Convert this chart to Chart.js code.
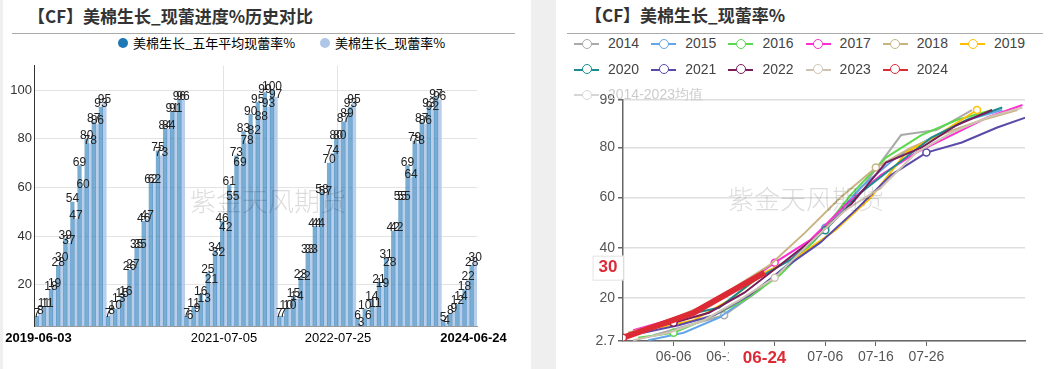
<!DOCTYPE html>
<html>
<head>
<meta charset="utf-8">
<script src="https://cdn.jsdelivr.net/npm/chart.js@4.4.1/dist/chart.umd.min.js"></script>
<style>
body{margin:0;width:1049px;height:369px;background:#efefef;position:relative;overflow:hidden;font-family:"Noto Sans CJK SC",sans-serif}
.panel{position:absolute;top:0;height:369px;background:#fff}
.title{position:absolute;font-weight:bold;font-size:17px;line-height:20px;color:#333;white-space:nowrap}
.rule{position:absolute;height:1px;background:#aaa}
.wm{position:absolute;font-size:26px;line-height:26px;color:rgba(0,0,0,0.14);font-weight:300;white-space:nowrap;pointer-events:none}
canvas{position:absolute}
.lg{position:absolute;white-space:nowrap;line-height:16px}
.dot{position:absolute;width:10px;height:10px;border-radius:50%}
.ln{position:absolute;width:25px;height:2px}
.ring{position:absolute;width:8px;height:8px;border-radius:50%;background:#fff;border:1.5px solid}
</style>
</head>
<body>
<div class="panel" style="left:3px;width:528px"></div>
<div class="panel" style="left:556px;width:493px"></div>

<div class="title" style="left:28px;top:6px">【CF】美棉生长_现蕾进度%历史对比</div>
<div class="rule" style="left:12px;top:33px;width:503px"></div>
<div class="title" style="left:585px;top:5px">【CF】美棉生长_现蕾率%</div>
<div class="rule" style="left:567px;top:33px;width:476px"></div>

<canvas id="left" width="530" height="300" style="left:0;top:55px"></canvas>
<canvas id="right" width="489" height="284" style="left:560px;top:85px"></canvas>

<div id="legends"></div>
<div class="wm" style="left:190px;top:187px">紫金天风期货</div>
<div class="wm" style="left:728px;top:185px">紫金天风期货</div>

<script>
// weekly report dates (MM-DD) and squaring % per year
const d2014 = ['06-02','06-09','06-16','06-23','06-30','07-07','07-14','07-21','07-28','08-04'];
const v2014 = [5, 9, 13, 23, 36, 50, 66, 85, 87, 95];
const d2015 = ['06-01','06-08','06-15','06-22','06-29','07-06','07-13','07-20','07-27','08-03','08-10'];
const v2015 = [3, 6, 12, 22, 34, 48, 64, 76, 84, 91, 95];
const d2016 = ['05-30','06-06','06-13','06-20','06-27','07-04','07-11','07-18','07-25','08-01','08-08'];
const v2016 = [4, 6, 12, 19, 29, 43, 61, 76, 85, 91, 95];
const d2017 = ['05-29','06-05','06-12','06-19','06-26','07-03','07-10','07-17','07-24','07-31','08-07','08-14'];
const v2017 = [7, 11, 16, 24, 34, 43, 57, 69, 78, 85, 92, 97];
const d2018 = ['05-28','06-04','06-11','06-18','06-25','07-02','07-09','07-16','07-23','07-30','08-06','08-13'];
const v2018 = [6, 10, 16, 24, 33, 46, 60, 72, 80, 86, 91, 95];
const d2019 = ['06-03','06-10','06-17','06-24','07-01','07-08','07-15','07-22','07-29','08-05'];
const v2019 = [8, 11, 19, 30, 37, 47, 60, 78, 86, 95];
const d2020 = ['06-01','06-08','06-15','06-22','06-29','07-06','07-13','07-20','07-27','08-03','08-10'];
const v2020 = [8, 13, 16, 27, 35, 47, 62, 73, 84, 91, 96];
const d2021 = ['05-31','06-07','06-14','06-21','06-28','07-05','07-12','07-19','07-26','08-02','08-09','08-16','08-23'];
const v2021 = [6, 9, 13, 21, 32, 42, 55, 69, 78, 82, 88, 93, 97];
const d2022 = ['05-30','06-06','06-13','06-20','06-27','07-04','07-11','07-18','07-25','08-01','08-08'];
const v2022 = [7, 10, 14, 22, 33, 44, 57, 74, 80, 89, 95];
const d2023 = ['05-29','06-05','06-12','06-19','06-26','07-03','07-10','07-17','07-24','07-31','08-07','08-14'];
const v2023 = [3, 6, 11, 19, 28, 42, 55, 64, 78, 86, 92, 96];
const d2024 = ['05-27','06-03','06-10','06-17','06-24'];
const v2024 = [4, 9, 14, 22, 30];

// five-year average for each week of the bar chart
const avg2019 = [7, 11, 18, 28, 39, 54, 69, 80, 87, 93];
const avg2020 = [7, 10, 15, 26, 35, 46, 62, 75, 84, 91, 96];
const avg2021 = [7, 11, 16, 25, 34, 46, 61, 73, 83, 90, 95, 99, 100];
const avg2022 = [7, 10, 15, 23, 33, 44, 58, 70, 80, 87, 93];
const avg2023 = [6, 10, 14, 21, 31, 42, 55, 69, 79, 87, 93, 97];
const avg2024 = [5, 8, 12, 18, 28];

const lineYears = ['2014','2015','2016','2017','2018','2019','2020','2021','2022','2023','2024'];
const lineDates = [d2014,d2015,d2016,d2017,d2018,d2019,d2020,d2021,d2022,d2023,d2024];
const lineVals = [v2014,v2015,v2016,v2017,v2018,v2019,v2020,v2021,v2022,v2023,v2024];
const lineColors = ['#aaaaaa','#62a5e8','#5cd84e','#ff2ed0','#c8b383','#ffc000','#1b8c8e','#5a4aa8','#7a1d5b','#d0c3b4','#dd2b36'];

const barYears = ['2019','2020','2021','2022','2023','2024'];
const barDates = [d2019,d2020,d2021,d2022,d2023,d2024];
const barCur = [v2019,v2020,v2021,v2022,v2023,v2024];
const barAvg = [avg2019,avg2020,avg2021,avg2022,avg2023,avg2024];

const shownLabels = ['2019-06-03','2021-07-05','2022-07-25','2024-06-24'];
const gridLabels = ['2021-07-05','2022-07-25'];
const leftYTicks = [20, 40, 60, 80, 100];
const rightYTicks = [2.7, 20, 40, 60, 80, 99];
const rightXTicks = ['06-06','06-16','06-26','07-06','07-16','07-26'];
const markDates = ['05-27','06-06','06-16','06-26','07-06','07-16','07-26','08-05'];

Chart.defaults.font.family = '"Liberation Sans", Arial, sans-serif';

function dayOf(md) {
  const [m, d] = md.split('-').map(Number);
  return (Date.UTC(2001, m - 1, d) - Date.UTC(2001, 4, 27)) / 864e5;
}
function mdOf(day) {
  const t = new Date(Date.UTC(2001, 4, 27) + day * 864e5);
  return String(t.getUTCMonth() + 1).padStart(2, '0') + '-' + String(t.getUTCDate()).padStart(2, '0');
}

// ---- left: bars ----
const barLabels = barYears.flatMap((yr, i) => barDates[i].map(md => yr + '-' + md));
const barAvgAll = barAvg.flat();
const barCurAll = barCur.flat();

const barValueLabels = {
  id: 'barValueLabels',
  afterDatasetsDraw(chart) {
    const ctx = chart.ctx;
    ctx.save();
    ctx.font = '12px "Liberation Sans", Arial';
    ctx.fillStyle = '#222';
    ctx.textAlign = 'center';
    ctx.textBaseline = 'bottom';
    chart.data.datasets.forEach((ds, i) => {
      chart.getDatasetMeta(i).data.forEach((bar, j) => {
        ctx.fillText(ds.data[j], bar.x, bar.y + 3);
      });
    });
    ctx.restore();
  }
};

new Chart(document.getElementById('left'), {
  type: 'bar',
  data: {
    labels: barLabels,
    datasets: [
      {label: '美棉生长_五年平均现蕾率%', data: barAvgAll, backgroundColor: 'rgba(31,119,180,0.6)'},
      {label: '美棉生长_现蕾率%', data: barCurAll, backgroundColor: 'rgba(174,199,232,0.88)'}
    ]
  },
  options: {
    responsive: false,
    animation: false,
    layout: {padding: {top: 9, right: 53, left: 0, bottom: 0}},
    plugins: {legend: {display: false}, tooltip: {enabled: false}},
    datasets: {bar: {categoryPercentage: 1, barPercentage: 1}},
    scales: {
      x: {
        grid: {offset: false, drawTicks: false, color: ctx => gridLabels.includes(barLabels[ctx.index]) ? '#e3e3e3' : 'transparent'},
        border: {color: '#999'},
        ticks: {
          autoSkip: false, maxRotation: 0, padding: 5, color: '#000',
          font: ctx => ({size: 13, weight: (ctx.index === 0 || ctx.index === barLabels.length - 1) ? 'bold' : 'normal'}),
          callback(v, i) { return shownLabels.includes(barLabels[i]) ? barLabels[i] : ''; }
        },
        afterFit(s) { s.height = 29; }
      },
      y: {
        min: 3, max: 110,
        afterBuildTicks(s) { s.ticks = leftYTicks.map(v => ({value: v})); },
        grid: {color: '#e3e3e3', drawTicks: false},
        border: {color: '#333'},
        ticks: {padding: 3, color: '#333', font: {size: 13}},
        afterFit(s) { s.width = 34; }
      }
    }
  },
  plugins: [barValueLabels]
});

// ---- right: lines ----
const markLabels = {
  id: 'markLabels',
  afterDraw(chart) {
    const {ctx, scales: {x, y}} = chart;
    const last = d2024.length - 1;
    const px = x.getPixelForValue(dayOf(d2024[last]));
    const py = y.getPixelForValue(v2024[last]) - 5;
    ctx.save();
    ctx.font = 'bold 17px "Liberation Sans", Arial';
    ctx.textAlign = 'center';
    ctx.textBaseline = 'middle';
    const xt = d2024[last];
    const w = ctx.measureText(xt).width;
    ctx.fillStyle = '#fff';
    ctx.fillRect(px - w / 2 - 14, x.top + 6, w + 26, 22);
    ctx.fillStyle = '#dd2b36';
    ctx.fillText(xt, px, x.top + 17);
    const yt = String(v2024[last]);
    const yw = ctx.measureText(yt).width;
    const cx = y.right - 15;
    ctx.fillStyle = '#fff';
    ctx.strokeStyle = '#e4e4e4';
    ctx.fillRect(cx - yw / 2 - 6, py - 12, yw + 12, 24);
    ctx.strokeRect(cx - yw / 2 - 6 + 0.5, py - 12 + 0.5, yw + 12, 24);
    ctx.fillStyle = '#dd2b36';
    ctx.fillText(yt, cx, py);
    ctx.restore();
  }
};

const lineSets = lineYears.map((yr, i) => ({
  label: yr,
  data: lineDates[i].map((md, j) => ({x: dayOf(md), y: lineVals[i][j]})),
  borderColor: lineColors[i],
  backgroundColor: '#fff',
  borderWidth: yr === '2024' ? 6 : 2,
  pointRadius: ctx => markDates.includes(lineDates[i][ctx.dataIndex]) ? 3.5 : 0,
  pointBorderWidth: 1.5,
  pointBackgroundColor: '#fff',
  pointBorderColor: lineColors[i],
  tension: 0,
  order: lineYears.length - i
}));

new Chart(document.getElementById('right'), {
  type: 'line',
  data: {datasets: lineSets},
  options: {
    responsive: false,
    animation: false,
    layout: {padding: {top: 15, right: 24, left: 0, bottom: 0}},
    plugins: {legend: {display: false}, tooltip: {enabled: false}},
    scales: {
      x: {
        type: 'linear', min: 0, max: 79.5,
        afterBuildTicks(s) { s.ticks = rightXTicks.map(md => ({value: dayOf(md)})); },
        grid: {drawOnChartArea: false, tickLength: 5, tickColor: '#666'},
        border: {color: '#666', width: 1.5},
        ticks: {padding: 3, color: '#555', font: {size: 14}, callback: v => mdOf(v)},
        afterFit(s) { s.height = 28; }
      },
      y: {
        min: 2.7, max: 99,
        afterBuildTicks(s) { s.ticks = rightYTicks.map(v => ({value: v})); },
        grid: {color: '#dedede', lineWidth: 1.5, tickLength: 5, tickColor: '#666'},
        border: {color: '#666', width: 1.5},
        ticks: {padding: 3, color: '#555', font: {size: 14}, callback: v => String(v)},
        afterFit(s) { s.width = 63; }
      }
    }
  },
  plugins: [markLabels]
});

// ---- legends ----
const lg = document.getElementById('legends');
function add(html) { lg.insertAdjacentHTML('beforeend', html); }
add('<div class="dot" style="left:118px;top:38px;background:#1f77b4"></div>');
add('<div class="lg" style="left:133px;top:35px;font-size:13px;color:#000">美棉生长_五年平均现蕾率%</div>');
add('<div class="dot" style="left:320px;top:38px;background:#aec7e8"></div>');
add('<div class="lg" style="left:335px;top:35px;font-size:13px;color:#000">美棉生长_现蕾率%</div>');

function lineItem(text, color, i, textColor) {
  const left = 574 + (i % 6) * 77.2;
  const top = 44 + Math.floor(i / 6) * 25.5;
  add('<div class="ln" style="left:' + left + 'px;top:' + (top - 1) + 'px;background:' + color + '"></div>');
  add('<div class="ring" style="left:' + (left + 7.5) + 'px;top:' + (top - 5.5) + 'px;border-color:' + color + '"></div>');
  add('<div class="lg" style="left:' + (left + 34) + 'px;top:' + (top - 9) + 'px;font-size:14px;font-family:\'Liberation Sans\',Arial;color:' + textColor + '">' + text + '</div>');
}
lineYears.forEach((yr, i) => lineItem(yr, lineColors[i], i, '#444'));
lineItem('2014-2023均值', '#d6d6d6', 12, '#cccccc');
</script>
</body>
</html>
